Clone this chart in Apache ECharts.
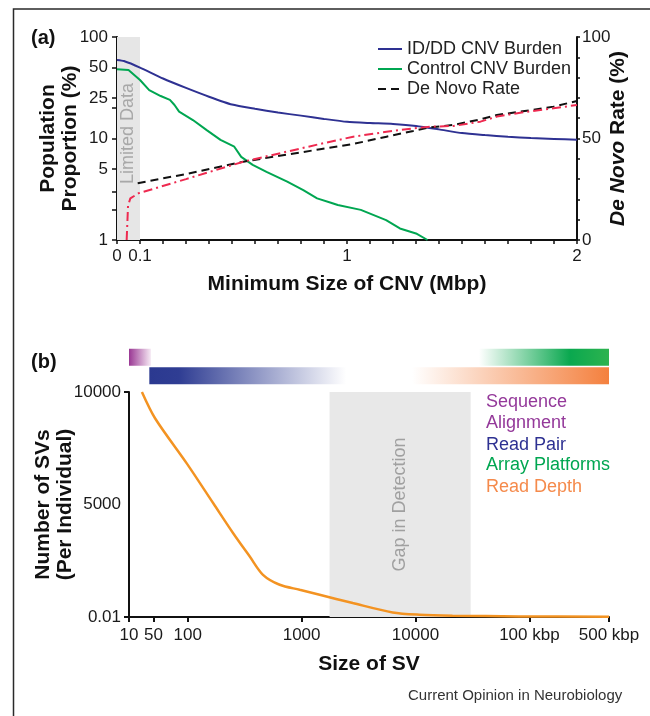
<!DOCTYPE html>
<html>
<head>
<meta charset="utf-8">
<script src="https://cdn.jsdelivr.net/npm/echarts@6/dist/echarts.min.js"></script>
<style>
  html, body { margin: 0; padding: 0; background: #fff; }
  #chart { width: 650px; height: 716px; }
</style>
</head>
<body>
<div id="chart"></div>
<script>
// (a) CNV burden vs minimum CNV size
var burdenSize = [0, 0.03, 0.1, 0.2, 0.3, 0.4, 0.5, 0.6, 0.7, 0.8, 0.9, 1.0, 1.1, 1.2, 1.3, 1.4, 1.5, 1.6, 1.7, 1.8, 1.9, 2.0];
var idddBurden = [59.5, 58, 50, 39, 31.5, 25.8, 21.6, 19.6, 18, 16.8, 15.6, 14.6, 14.2, 13.9, 13.3, 12.3, 11.3, 10.8, 10.4, 10.1, 9.9, 9.7];

var controlSize = [0, 0.05, 0.1, 0.14, 0.19, 0.23, 0.25, 0.27, 0.33, 0.39, 0.45, 0.51, 0.54, 0.59, 0.65, 0.74, 0.81, 0.87, 0.93, 0.96, 1.06, 1.17, 1.23, 1.3, 1.35];
var controlBurden = [48, 47.3, 37.7, 30, 26.2, 24, 21.4, 18.4, 15.2, 12.1, 9.7, 8.3, 6.6, 5.5, 4.7, 3.76, 3.1, 2.57, 2.33, 2.21, 1.98, 1.57, 1.3, 1.16, 1.0];

var deNovoSize = [0.09, 0.3, 0.55, 0.883, 1.027, 1.172, 1.288, 1.361, 1.464, 1.58, 1.652, 1.753, 1.898, 2.0];
var deNovoRate = [28, 32.5, 38.6, 44.7, 47.3, 50.9, 53.7, 55.5, 56.7, 59.4, 61.6, 63.2, 65.7, 68.5];

var deNovoAltSize = [0.042, 0.048, 0.058, 0.093, 0.3, 0.55, 0.883, 1.027, 1.172, 1.288, 1.361, 1.464, 1.58, 1.652, 1.753, 1.898, 2.0];
var deNovoAltRate = [0, 17, 20.5, 23, 30, 38.6, 47.3, 50.9, 53.3, 55.0, 55.8, 56.2, 58.3, 60.8, 62.7, 64.9, 66.5];

var limitedRange = [0, 0.1];
var cnvLabelTicks = [0, 0.1, 1, 2];
var burdenLabelTicks = [1, 5, 10, 25, 50, 100];
var burdenMinorTicks = [1, 2, 3, 5, 10, 20, 25, 50, 100];
var rateLabelTicks = [0, 50, 100];

// (b) SVs per individual vs SV size
var svSize = [39.6, 51.8, 98, 167.6, 250.6, 350.6, 458, 642, 961, 1439, 2812, 6296, 10800, 21100, 80800, 500000];
var svCount = [10000, 8821, 6826, 5053, 3723, 2686, 1875, 1432, 1210, 990, 620, 204, 102, 58, 27, 10];
var gapRange = [1760, 30500];

// the figure squeezes its "10" onto the axis start
var svAxisMin = 30.5;
var svAxisMax = 500000;
var svTickValues = [30.5, 50, 100, 1000, 10000, 100000, 500000];
var svTickLabels = ['10', '50', '100', '1000', '10000', '100 kbp', '500 kbp'];
var svCountTicks = [0, 5000, 10000];
var svCountLabels = ['0.01', '5000', '10000'];

// detection method ranges (bars above panel b)
var methodNames = ['Sequence Alignment', 'Read Pair', 'Array Platforms', 'Read Depth'];
var methodStart = [30.5, 46, 36000, 9350];
var methodEnd = [47.5, 2460, 500000, 500000];
var methodRow = [0, 1, 0, 1];

var FONT = '"Liberation Sans", Arial, Helvetica, sans-serif';

var methodStops = [
  [{ offset: 0, color: '#9a3894' }, { offset: 1, color: '#f6eaf4' }],
  [{ offset: 0, color: '#2b3990' }, { offset: 0.15, color: '#2f3d93' }, { offset: 1, color: '#ffffff' }],
  [{ offset: 0, color: '#ffffff' }, { offset: 0.7, color: '#0aa84f' }, { offset: 1, color: '#2db34f' }],
  [{ offset: 0, color: '#ffffff' }, { offset: 1, color: '#f4803e' }]
];

function pairs(xs, ys) {
  return xs.map(function (x, i) { return [x, ys[i]]; });
}

function range(a, b, step) {
  var out = [];
  for (var v = a; v <= b + 1e-9; v += step) out.push(Math.round(v * 100) / 100);
  return out;
}

var chart = echarts.init(document.getElementById('chart'));

var axisLine = { show: true, lineStyle: { color: '#111', width: 2 } };
var nameStyle = { fontSize: 21, fontWeight: 'bold', color: '#111', fontFamily: FONT, lineHeight: 22 };

var option = {
  animation: false,
  backgroundColor: '#fff',
  textStyle: { fontFamily: FONT },
  grid: [
    { left: 117, top: 37, width: 460, height: 203 },
    { left: 129, top: 392, width: 480, height: 225 },
    { left: 129, top: 348, width: 480, height: 37 }
  ],
  legend: {
    data: ['ID/DD CNV Burden', 'Control CNV Burden', 'De Novo Rate'],
    orient: 'vertical',
    left: 372,
    top: 35,
    itemWidth: 24,
    itemHeight: 10,
    itemGap: 2,
    itemStyle: { opacity: 0 },
    textStyle: { fontSize: 18, color: '#222', fontFamily: FONT }
  },
  xAxis: [
    {
      type: 'value', gridIndex: 0, min: 0, max: 2,
      axisLine: axisLine,
      axisTick: { show: true, customValues: range(0, 2, 0.1), length: 4, lineStyle: { color: '#111', width: 1.5 } },
      axisLabel: { customValues: cnvLabelTicks, margin: 8, fontSize: 17, color: '#1a1a1a', formatter: function (v) { return String(v); } },
      splitLine: { show: false },
      name: 'Minimum Size of CNV (Mbp)', nameLocation: 'middle', nameGap: 33, nameMoveOverlap: false, nameTextStyle: nameStyle
    },
    {
      type: 'log', gridIndex: 1, logBase: 10, min: svAxisMin, max: svAxisMax,
      axisLine: axisLine,
      axisTick: { show: true, customValues: svTickValues, length: 5, lineStyle: { color: '#111', width: 2 } },
      axisLabel: {
        customValues: svTickValues, margin: 10, fontSize: 17, color: '#1a1a1a',
        formatter: function (v) {
          for (var i = 0; i < svTickValues.length; i++) {
            if (Math.abs(Math.log10(v) - Math.log10(svTickValues[i])) < 1e-4) return svTickLabels[i];
          }
          return '';
        }
      },
      splitLine: { show: false },
      name: 'Size of SV', nameLocation: 'middle', nameGap: 36, nameMoveOverlap: false, nameTextStyle: nameStyle
    },
    {
      type: 'log', gridIndex: 2, logBase: 10, min: svAxisMin, max: svAxisMax, show: false
    }
  ],
  yAxis: [
    {
      type: 'log', gridIndex: 0, logBase: 10, min: 1, max: 100,
      axisLine: axisLine,
      axisTick: { show: true, customValues: burdenMinorTicks, length: 5, lineStyle: { color: '#111', width: 1.5 } },
      axisLabel: { customValues: burdenLabelTicks, margin: 9, fontSize: 17, color: '#1a1a1a' },
      splitLine: { show: false },
      name: 'Population\nProportion (%)', nameLocation: 'middle', nameGap: 36, nameMoveOverlap: false, nameTextStyle: nameStyle
    },
    {
      type: 'value', gridIndex: 0, min: 0, max: 100, position: 'right',
      axisLine: axisLine,
      axisTick: { show: true, customValues: range(0, 100, 10), length: 3, lineStyle: { color: '#111', width: 1.5 } },
      axisLabel: { customValues: rateLabelTicks, margin: 5, fontSize: 17, color: '#1a1a1a' },
      splitLine: { show: false },
      name: '{i|De Novo} Rate (%)', nameLocation: 'middle', nameGap: 31, nameMoveOverlap: false,
      nameTextStyle: {
        fontSize: 21, fontWeight: 'bold', color: '#111', fontFamily: FONT,
        rich: { i: { fontSize: 21, fontWeight: 'bold', fontStyle: 'italic', color: '#111', fontFamily: FONT } }
      }
    },
    {
      type: 'value', gridIndex: 1, min: 0, max: 10000,
      axisLine: axisLine,
      axisTick: { show: true, customValues: [0, 10000], length: 5, lineStyle: { color: '#111', width: 2 } },
      axisLabel: {
        customValues: svCountTicks, margin: 8, fontSize: 17, color: '#1a1a1a',
        formatter: function (v) { return svCountLabels[svCountTicks.indexOf(v)]; }
      },
      splitLine: { show: false },
      name: 'Number of SVs\n(Per Individual)', nameLocation: 'middle', nameGap: 53, nameMoveOverlap: false, nameTextStyle: nameStyle
    },
    {
      type: 'category', gridIndex: 2, data: ['top', 'bottom'], inverse: true, show: false
    }
  ],
  series: [
    {
      name: 'limited', type: 'line', xAxisIndex: 0, yAxisIndex: 1, data: [], silent: true,
      markArea: {
        silent: true,
        itemStyle: { color: '#e6e6e6' },
        label: { show: true, position: 'inside', rotate: 90, color: '#a8a8a8', fontSize: 18, fontFamily: FONT, offset: [5, 0] },
        data: [[{ xAxis: limitedRange[0], name: 'Limited Data' }, { xAxis: limitedRange[1] }]]
      }
    },
    {
      name: 'ID/DD CNV Burden', type: 'line', xAxisIndex: 0, yAxisIndex: 0,
      data: pairs(burdenSize, idddBurden), symbol: 'none', smooth: 0.2,
      lineStyle: { color: '#2e3192', width: 2 }, itemStyle: { color: '#2e3192' }
    },
    {
      name: 'Control CNV Burden', type: 'line', xAxisIndex: 0, yAxisIndex: 0,
      data: pairs(controlSize, controlBurden), symbol: 'none',
      lineStyle: { color: '#00a651', width: 2 }, itemStyle: { color: '#00a651' }
    },
    {
      name: 'De Novo Rate', type: 'line', xAxisIndex: 0, yAxisIndex: 1,
      data: pairs(deNovoSize, deNovoRate), symbol: 'none',
      lineStyle: { color: '#111', width: 2, type: [8, 5] }, itemStyle: { color: '#111' }
    },
    {
      name: 'De Novo Rate (alt)', type: 'line', xAxisIndex: 0, yAxisIndex: 1,
      data: pairs(deNovoAltSize, deNovoAltRate), symbol: 'none',
      lineStyle: { color: '#ee2a50', width: 2, type: [9, 4, 2, 4] }, itemStyle: { color: '#ee2a50' }
    },
    {
      name: 'gap', type: 'line', xAxisIndex: 1, yAxisIndex: 2, data: [], silent: true,
      markArea: {
        silent: true,
        itemStyle: { color: '#e8e8e8' },
        label: { show: true, position: 'inside', rotate: 90, color: '#a0a0a0', fontSize: 18, fontFamily: FONT },
        data: [[{ xAxis: gapRange[0], name: 'Gap in Detection' }, { xAxis: gapRange[1] }]]
      }
    },
    {
      name: 'SVs', type: 'line', xAxisIndex: 1, yAxisIndex: 2,
      data: pairs(svSize, svCount), symbol: 'none', smooth: 0.3,
      lineStyle: { color: '#f39322', width: 2.5 }
    },
    {
      name: 'methods', type: 'custom', xAxisIndex: 2, yAxisIndex: 3, silent: true,
      encode: { x: [0, 1], y: 2 },
      data: methodStart.map(function (s, i) { return [s, methodEnd[i], methodRow[i]]; }),
      renderItem: function (params, api) {
        var s = api.coord([api.value(0), api.value(2)]);
        var e = api.coord([api.value(1), api.value(2)]);
        var h = params.coordSys.height / 2 - 1.5;
        return {
          type: 'rect',
          shape: { x: s[0], y: s[1] - h / 2, width: e[0] - s[0], height: h },
          style: { fill: new echarts.graphic.LinearGradient(0, 0, 1, 0, methodStops[params.dataIndex]) }
        };
      }
    }
  ],
  graphic: [
    { type: 'rect', silent: true, shape: { x: 13.5, y: 9, width: 720, height: 800 }, style: { fill: null, stroke: '#2a2a2a', lineWidth: 1.5 } },
    { type: 'text', x: 31, y: 38, style: { text: '(a)', font: 'bold 20px ' + FONT, fill: '#111', verticalAlign: 'middle' } },
    { type: 'text', x: 31, y: 362, style: { text: '(b)', font: 'bold 20px ' + FONT, fill: '#111', verticalAlign: 'middle' } },
    { type: 'text', x: 486, y: 402, style: { text: 'Sequence', font: '18px ' + FONT, fill: '#94399a', verticalAlign: 'middle' } },
    { type: 'text', x: 486, y: 423, style: { text: 'Alignment', font: '18px ' + FONT, fill: '#94399a', verticalAlign: 'middle' } },
    { type: 'text', x: 486, y: 445, style: { text: 'Read Pair', font: '18px ' + FONT, fill: '#2e3192', verticalAlign: 'middle' } },
    { type: 'text', x: 486, y: 465, style: { text: 'Array Platforms', font: '18px ' + FONT, fill: '#00a651', verticalAlign: 'middle' } },
    { type: 'text', x: 486, y: 487, style: { text: 'Read Depth', font: '18px ' + FONT, fill: '#f58a4b', verticalAlign: 'middle' } },
    { type: 'text', x: 408, y: 696, style: { text: 'Current Opinion in Neurobiology', font: '15px ' + FONT, fill: '#333', verticalAlign: 'middle' } }
  ]
};

chart.setOption(option);
</script>
</body>
</html>
